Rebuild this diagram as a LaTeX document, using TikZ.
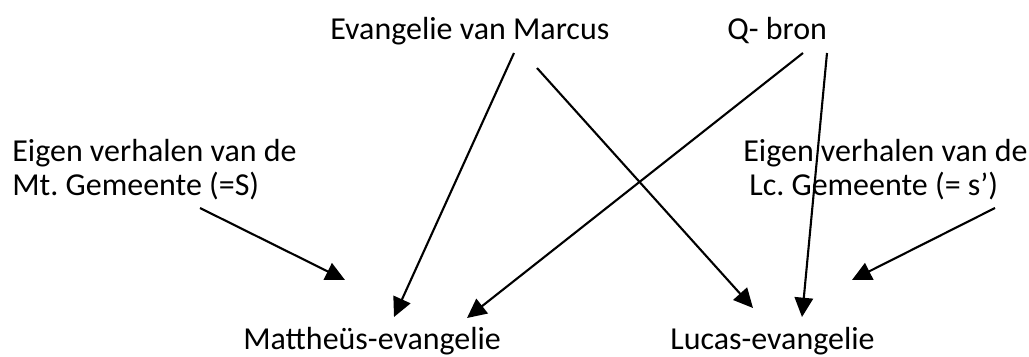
\documentclass[tikz,border=0pt]{standalone}
\usepackage{fontspec}
\setmainfont{Carlito}
\usetikzlibrary{arrows.meta}
\tikzset{
  lbl/.style={inner sep=0pt, anchor=base west, font=\fontsize{18.2}{22}\selectfont\frenchspacing},
  flow/.style={-{Triangle[length=11pt, width=10.5pt]}, line width=1.2pt}
}

\begin{document}
\begin{tikzpicture}[x=0.02cm, y=-0.02cm]
\useasboundingbox (0,0) rectangle (1029,356);
% sources
\node[lbl] (marcus) at (330,39) {Evangelie van Marcus};
\node[lbl] (qbron) at (727,39) {Q- bron};
\node[lbl] (sown1) at (12,161) {Eigen verhalen van de};
\node[lbl] (sown2) at (12,195) {Mt. Gemeente (=S)};
\node[lbl] (lown1) at (743,161) {Eigen verhalen van de};
\node[lbl] (lown2) at (749,195) {Lc. Gemeente (= s’)};
% gospels
\node[lbl] (matt) at (243,349) {Mattheüs-evangelie};
\node[lbl] (luke) at (670,349) {Lucas-evangelie};
% arrow ends
\coordinate (marcus-m) at (514,53);
\coordinate (marcus-l) at (537,68);
\coordinate (qbron-m) at (803,53);
\coordinate (qbron-l) at (827,53);
\coordinate (sown-m) at (200,208);
\coordinate (lown-l) at (995,208);
\coordinate (matt-a) at (394,317);
\coordinate (matt-b) at (467,318);
\coordinate (matt-c) at (345,280);
\coordinate (luke-a) at (753,308);
\coordinate (luke-b) at (802,317);
\coordinate (luke-c) at (852,280);
\draw[flow] (marcus-m)--(matt-a); \draw[flow] (marcus-l)--(luke-a);
\draw[flow] (qbron-m)--(matt-b); \draw[flow] (qbron-l)--(luke-b);
\draw[flow] (sown-m)--(matt-c); \draw[flow] (lown-l)--(luke-c);
\end{tikzpicture}
\end{document}
